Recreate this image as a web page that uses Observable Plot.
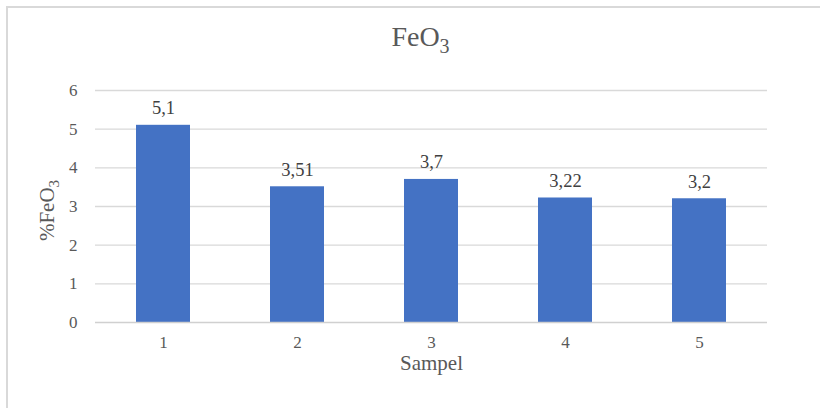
<!DOCTYPE html>
<html>
<head>
<meta charset="utf-8">
<script src="https://cdn.jsdelivr.net/npm/d3@7"></script>
<script src="https://cdn.jsdelivr.net/npm/@observablehq/plot@0.6"></script>
<style>
  html, body { margin: 0; padding: 0; overflow: hidden; background: #fff; }
  #wrap { position: relative; width: 820px; height: 408px; }
  #frame { position: absolute; left: 6px; top: 6px; width: 840px; height: 430px;
           border: 2px solid #d9d9d9; pointer-events: none; }
  svg { background: transparent !important; }
  svg, svg text, svg tspan { font-family: "Liberation Serif", "DejaVu Serif", serif !important; }
</style>
</head>
<body>
<div id="wrap"><div id="chart"></div><div id="frame"></div></div>
<script>
const samples = [1, 2, 3, 4, 5];
const values = [5.1, 3.51, 3.7, 3.22, 3.2];
const yTicks = [0, 1, 2, 3, 4, 5, 6];
const titleText = "FeO3";
const yLabelText = "%FeO3";
const xLabelText = "Sampel";

const data = samples.map((s, i) => ({sample: s, value: values[i], label: String(values[i]).replace(".", ",")}));
const serif = "'Liberation Serif', 'DejaVu Serif', serif";
const gray = "#595959";

const plot = Plot.plot({
  width: 820,
  height: 408,
  marginLeft: 95,
  marginRight: 53,
  marginTop: 90,
  marginBottom: 86,
  style: {fontSize: "16px", color: gray, background: "transparent"},
  x: {type: "band", domain: samples, paddingInner: 0.6, paddingOuter: 0.3, label: null},
  y: {domain: [0, 6], label: null},
  marks: [
    Plot.ruleY(yTicks.filter(t => t > 0), {stroke: "#d9d9d9", strokeWidth: 1.3}),
    Plot.barY(data, {x: "sample", y: "value", fill: "#4472C4"}),
    Plot.ruleY([0], {stroke: "#d0d0d0", strokeWidth: 1.6}),
    Plot.axisY({ticks: yTicks, tickFormat: d => String(d), tickSize: 0, tickPadding: 18, fontSize: 17, fontFamily: serif, label: null, fill: gray}),
    Plot.axisX({tickSize: 0, tickPadding: 13, fontSize: 17, fontFamily: serif, label: null, fill: gray}),
    Plot.text(data, {x: "sample", y: "value", text: "label", dy: -11, lineAnchor: "bottom", fontSize: 18.5, fontFamily: serif, fill: "#404040"}),
    Plot.text([titleText], {frameAnchor: "top", dx: -11, dy: -45, lineAnchor: "bottom", fontSize: 28, fontFamily: serif, fill: gray}),
    Plot.text([yLabelText], {frameAnchor: "left", textAnchor: "middle", dx: -48, dy: 4, rotate: -90, lineAnchor: "middle", fontSize: 21, fontFamily: serif, fill: gray}),
    Plot.text([xLabelText], {frameAnchor: "bottom", dx: 0, dy: 47, lineAnchor: "bottom", fontSize: 21, fontFamily: serif, fill: gray})
  ]
});

document.getElementById("chart").appendChild(plot);

// subscript the "3" in chemical formulas
d3.select(plot).selectAll("text").each(function() {
  const t = this.textContent;
  if (t === titleText || t === yLabelText) {
    const big = t === titleText;
    const el = d3.select(this);
    el.text(null);
    el.append("tspan").text(t.slice(0, -1));
    el.append("tspan").attr("dy", big ? "0.35em" : "0.3em").attr("font-size", big ? 20 : 15).text(t.slice(-1));
  }
});
</script>
</body>
</html>
